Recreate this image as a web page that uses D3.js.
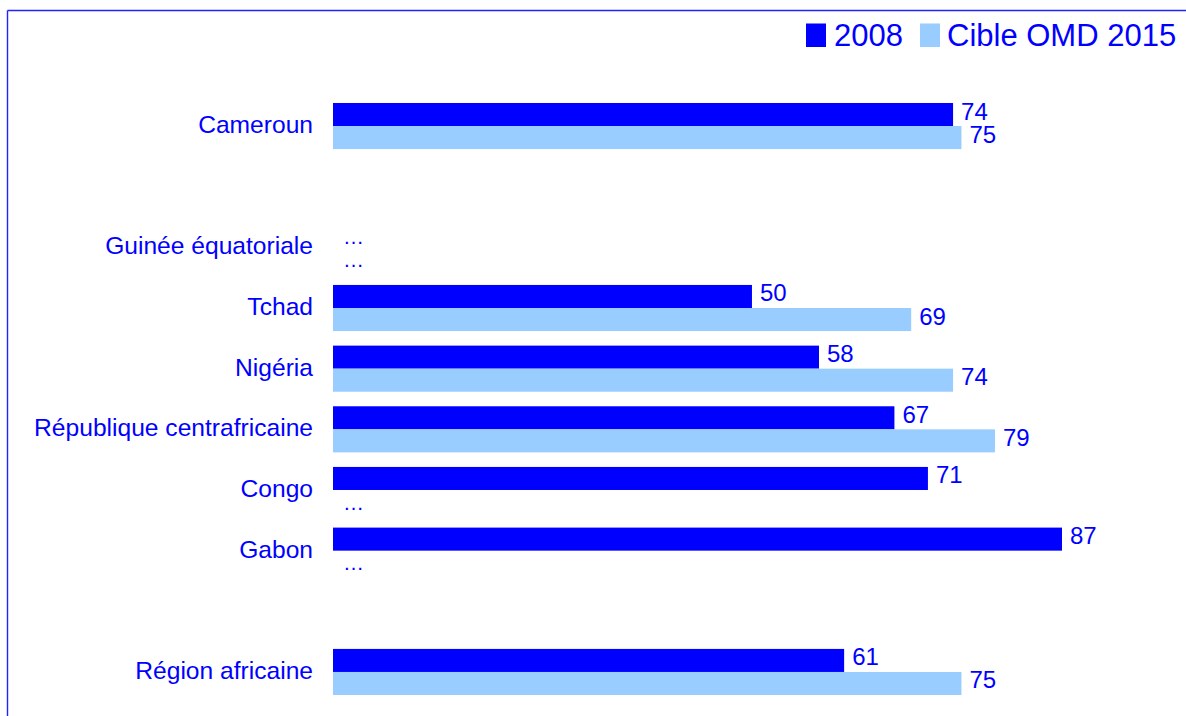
<!DOCTYPE html>
<html><head><meta charset="utf-8">
<script src="https://cdn.jsdelivr.net/npm/d3@7"></script>
<style>
html,body{margin:0;padding:0;background:#fff;}
svg{display:block;font-family:"Liberation Sans",Arial,sans-serif;}
</style></head>
<body><svg id="c" width="1186" height="716"></svg>
<script>
// Rows, top to bottom ("" = empty spacer row)
const categories = ["Cameroun", "", "Guinée équatoriale", "Tchad", "Nigéria", "République centrafricaine", "Congo", "Gabon", " ", "Région africaine"];
const values2008 = [74, null, null, 50, 58, 67, 71, 87, null, 61];
const valuesCible = [75, null, null, 69, 74, 79, null, null, null, 75];
const seriesNames = ["2008", "Cible OMD 2015"];
const colors = ["#0000FF", "#99CCFF"];
const textColor = "#0000FF";

const svg = d3.select("#c");

// frame (top and left lines)
svg.append("line").attr("x1", 7.5).attr("x2", 1186).attr("y1", 10.5).attr("y2", 10.5)
  .attr("stroke", "#2222FF").attr("stroke-width", 1.4);
svg.append("line").attr("x1", 7.5).attr("x2", 7.5).attr("y1", 10.5).attr("y2", 716)
  .attr("stroke", "#2222FF").attr("stroke-width", 1.4);

const x = d3.scaleLinear().domain([0, 87]).range([333, 1062]);
const y = d3.scaleBand().domain(categories.map((d, i) => i)).range([95.7, 702.3])
  .paddingInner(0.24).paddingOuter(0.12);
const sub = d3.scaleBand().domain([0, 1]).range([0, y.bandwidth()]);

const rows = categories.map((c, i) => ({c, i, v: [values2008[i], valuesCible[i]]}));
const blank = c => c.trim() === "";

// category labels
svg.append("g").selectAll("text").data(rows.filter(r => !blank(r.c))).join("text")
  .attr("x", 313).attr("y", r => y(r.i) + y.bandwidth() / 2 + 7)
  .attr("text-anchor", "end").attr("font-size", 24.6).attr("fill", textColor)
  .text(r => r.c);

// bars, value labels, ellipses
rows.filter(r => !blank(r.c)).forEach(r => {
  r.v.forEach((v, s) => {
    const y0 = y(r.i) + sub(s), h = sub.bandwidth(), cy = y0 + h / 2;
    if (v != null) {
      svg.append("rect").attr("x", x(0)).attr("y", y0).attr("width", x(v) - x(0)).attr("height", h)
        .attr("fill", colors[s]);
      svg.append("text").attr("x", x(v) + 8).attr("y", cy + 5).attr("font-size", 24)
        .attr("fill", textColor).text(v);
    } else {
      svg.append("text").attr("x", x(0) + 10).attr("y", cy + 8).attr("font-size", 21)
        .attr("fill", textColor).text("…");
    }
  });
});

// legend
const lg = svg.append("g");
const legendItems = [{x: 806, tx: 834}, {x: 920, tx: 947}];
seriesNames.forEach((n, i) => {
  lg.append("rect").attr("x", legendItems[i].x).attr("y", 23.5).attr("width", 20).attr("height", 23.5).attr("fill", colors[i]);
  lg.append("text").attr("x", legendItems[i].tx).attr("y", 45.5).attr("font-size", 31).attr("fill", textColor).text(n);
});
</script></body></html>
